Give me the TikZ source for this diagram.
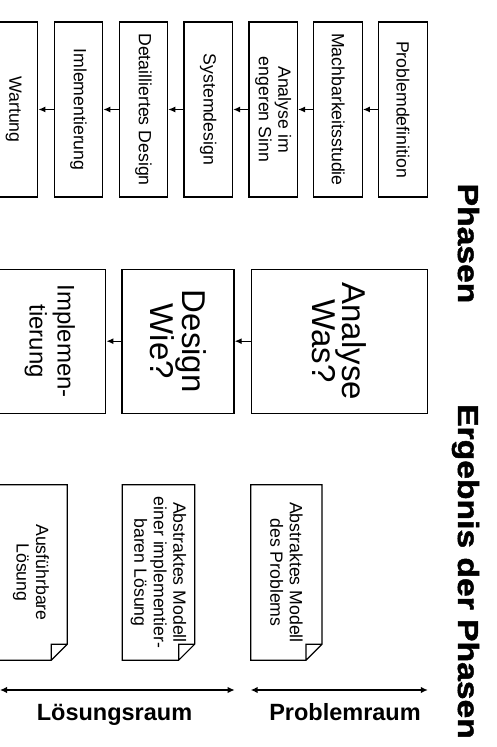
\documentclass[tikz,border=0pt]{standalone}
\usepackage{fontspec}
\setmainfont{Liberation Sans}
\newfontfamily\titlefont[FakeStretch=1.16, FakeBold=1.6]{Liberation Sans Bold}
\usetikzlibrary{arrows.meta,positioning}

\newcommand{\smallfs}{\fontsize{17.7}{19.5}\selectfont}
\newcommand{\bigfs}{\fontsize{33}{29}\selectfont}
\newcommand{\midfs}{\fontsize{24}{28}\selectfont}

\begin{document}
\begin{tikzpicture}[
  x=1pt, y=1pt,
  node distance=15.2pt,
  txt/.style={rotate=-90, align=center, inner sep=0pt},
  phase/.style={draw, line width=1.2pt, inner sep=0pt, minimum width=48.5pt, minimum height=175pt,
    label={[txt, font=\smallfs]center:#1}},
  stage/.style 2 args={draw, line width=1.2pt, inner sep=0pt, minimum height=144pt,
    label={[txt, font=#1]center:#2}},
  doc/.style={inner sep=0pt, minimum height=175pt, label={[txt, font=\smallfs]center:#1}},
  docline/.style={line width=1.2pt},
  title/.style={rotate=-90, anchor=base, inner sep=0pt, font=\titlefont\fontsize{29}{33}\selectfont},
  raum/.style={anchor=base, inner sep=0pt, font=\bfseries\fontsize{23.5}{28}\selectfont},
  arr/.style={-{Latex[length=7pt,width=6pt]}, line width=1.2pt},
  dblarr/.style={{Latex[length=7pt,width=6.5pt]}-{Latex[length=7pt,width=6.5pt]}, line width=1.5pt}
]
\useasboundingbox (0,0) rectangle (496,747);
\clip (0,0) rectangle (496,747);

% Phasen
\node[phase=Problemdefinition] (pdef) at (403,637.5) {};
\node[phase=Machbarkeitsstudie, left=of pdef] (mach) {};
\node[phase={Analyse im\\engeren Sinn}, left=of mach] (aies) {};
\node[phase=Systemdesign, left=of aies] (sysd) {};
\node[phase=Detailliertes Design, left=of sysd] (detd) {};
\node[phase=Imlementierung, left=of detd] (imlm) {};
\node[phase=Wartung, left=of imlm] (wart) {};

\draw[arr] (pdef) -- (mach);
\draw[arr] (mach) -- (aies);
\draw[arr] (aies) -- (sysd);
\draw[arr] (sysd) -- (detd);
\draw[arr] (detd) -- (imlm);
\draw[arr] (imlm) -- (wart);

% Analyse, Design, Implementierung
\node[stage={\bigfs}{Analyse\\Was?}, minimum width=176pt,
  below=71pt of pdef.south east, anchor=north east] (analyse) {};
\node[stage={\bigfs}{Design\\Wie?}, minimum width=112pt, left=16pt of analyse] (design) {};
\node[stage={\midfs}{Implemen-\\tierung}, minimum width=112pt, left=15pt of design] (implement) {};

\draw[arr] (analyse) -- (design);
\draw[arr] (design) -- (implement);

% Ergebnisse
\node[doc={Abstraktes Modell\\des Problems}, minimum width=71pt,
  below=71pt of analyse.south west, anchor=north west] (dprob) {};
\node[doc={Abstraktes Modell\\einer implementier-\\baren Lösung}, minimum width=72pt, left=56pt of dprob] (dmod) {};
\node[doc={Ausführbare\\Lösung}, minimum width=72pt, left=55pt of dmod] (dexe) {};

\foreach \d in {dprob,dmod,dexe}
  \draw[docline] (\d.north west) -- (\d.north east) -- ([yshift=16]\d.south east)
    -- ([xshift=-16]\d.south east) -- (\d.south west) -- cycle
    ([xshift=-16]\d.south east) -- ([shift={(-16,16)}]\d.south east) -- ([yshift=16]\d.south east);

% Raeume
\node[raum] (probraum) at (345,27) {Problemraum};
\node[raum] (loesraum) at (114.5,27) {Lösungsraum};
\coordinate (raumlinks) at (0,57);
\draw[dblarr] (analyse.west |- raumlinks) -- (analyse.east |- raumlinks);
\draw[dblarr] (raumlinks) -- (design.east |- raumlinks);

% Titel
\node[title] (tphasen) at (458,503.5) {Phasen};
\node[title] (tergebnis) at (458,175.5) {Ergebnis der Phasen};
\end{tikzpicture}
\end{document}
